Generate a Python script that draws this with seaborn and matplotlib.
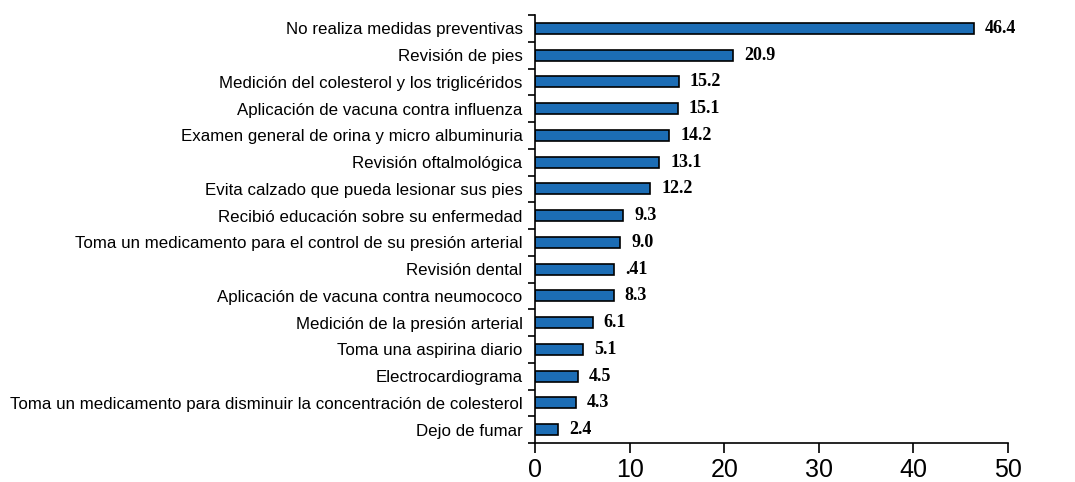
import matplotlib
matplotlib.use("Agg")
import matplotlib.pyplot as plt
import seaborn as sns
import pandas as pd
import numpy as np

categories = [
    "No realiza medidas preventivas",
    "Revisión de pies",
    "Medición del colesterol y los triglicéridos",
    "Aplicación de vacuna contra influenza",
    "Examen general de orina y micro albuminuria",
    "Revisión oftalmológica",
    "Evita calzado que pueda lesionar sus pies",
    "Recibió educación sobre su enfermedad",
    "Toma un medicamento para el control de su presión arterial",
    "Revisión dental",
    "Aplicación de vacuna contra neumococo",
    "Medición de la presión arterial",
    "Toma una aspirina diario",
    "Electrocardiograma",
    "Toma un medicamento para disminuir la concentración de colesterol",
    "Dejo de fumar",
]
values = [46.4, 20.9, 15.2, 15.1, 14.2, 13.1, 12.2, 9.3, 9.0, 8.4, 8.3, 6.1, 5.1, 4.5, 4.3, 2.4]
value_labels = ["46.4", "20.9", "15.2", "15.1", "14.2", "13.1", "12.2", "9.3", "9.0",
                ".41", "8.3", "6.1", "5.1", "4.5", "4.3", "2.4"]
x_ticks = [0, 10, 20, 30, 40, 50]

sns.set_style("ticks")
plt.rcParams["font.family"] = ["Liberation Sans", "DejaVu Sans"]
plt.rcParams["text.color"] = "black"
plt.rcParams["xtick.color"] = "black"
plt.rcParams["ytick.color"] = "black"
plt.rcParams["axes.edgecolor"] = "black"

df = pd.DataFrame({"categoria": categories, "valor": values})

fig = plt.figure(figsize=(10.75, 4.82), dpi=100)
ax = fig.add_axes([535 / 1075, 1 - 443 / 482, (1008 - 535) / 1075, (443 - 15) / 482])

sns.barplot(data=df, x="valor", y="categoria", orient="h", color="#1c6db5",
            saturation=1, edgecolor="black", linewidth=1.2, width=0.42, ax=ax)

ax.set_xlim(0, 50)
ax.set_ylim(len(categories) - 0.5, -0.5)
ax.set_xticks(x_ticks)
ax.set_xticklabels([str(t) for t in x_ticks], fontsize=18)
ax.set_xlabel("")
ax.set_ylabel("")
ax.tick_params(axis="y", which="major", length=0, pad=9, labelsize=12.2, labelcolor="black")
ax.set_yticks(np.arange(-0.5, len(categories), 1.0), minor=True)
ax.tick_params(axis="y", which="minor", length=5, width=1.2, direction="out", color="black")
ax.tick_params(axis="x", length=7, width=1.2, direction="out", color="black", pad=4,
               labelcolor="black")
for s in ["top", "right"]:
    ax.spines[s].set_visible(False)
for s in ["left", "bottom"]:
    ax.spines[s].set_color("black")
    ax.spines[s].set_linewidth(1.2)

for i, (v, lab) in enumerate(zip(values, value_labels)):
    ax.annotate(lab, xy=(v, i), xytext=(8, 0), textcoords="offset points",
                ha="left", va="center", fontsize=13, fontweight="bold", color="black",
                family=["Liberation Serif", "DejaVu Serif"])

fig.savefig("out.png", dpi=100)
